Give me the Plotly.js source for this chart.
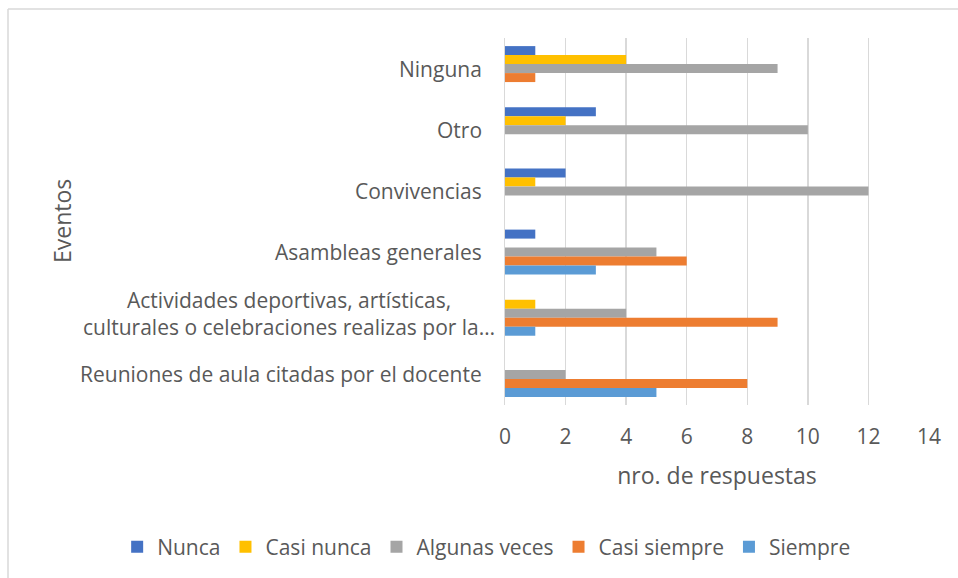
<!DOCTYPE html>
<html>
<head>
<meta charset="utf-8">
<script src="https://cdn.plot.ly/plotly-3.0.1.min.js"></script>
<style>
html,body{margin:0;padding:0;background:#fff;overflow:hidden;}
#chart{width:958px;height:578px;}
</style>
</head>
<body>
<div id="chart"></div>
<script>
// Categories, top to bottom as in the chart
const categories = [
  "Ninguna",
  "Otro",
  "Convivencias",
  "Asambleas generales",
  "Actividades deportivas, artísticas,<br>culturales o celebraciones realizas por la…",
  "Reuniones de aula citadas por el docente"
];
const seriesNames = ["Nunca", "Casi nunca", "Algunas veces", "Casi siempre", "Siempre"];
const nunca        = [1, 3, 2, 1, 0, 0];
const casiNunca    = [4, 2, 1, 0, 1, 0];
const algunasVeces = [9, 10, 12, 5, 4, 2];
const casiSiempre  = [1, 0, 0, 6, 9, 8];
const siempre      = [0, 0, 0, 3, 1, 5];
const xTicks = [0, 2, 4, 6, 8, 10, 12, 14];

const seriesValues = [nunca, casiNunca, algunasVeces, casiSiempre, siempre];
const colors = ["#4472C4", "#FFC000", "#A5A5A5", "#ED7D31", "#5B9BD5"];

const FONT = "'Open Sans', 'Noto Sans', sans-serif";
const TXT = "#595959";

const traces = seriesNames.map((name, i) => ({
  type: "bar",
  orientation: "h",
  name: name,
  y: categories,
  x: seriesValues[i],
  marker: {color: colors[i], line: {width: 0}},
  hoverinfo: "x+name"
}));

// page geometry in pixels
const W = 958, H = 578;
const ML = 8, MR = 8, T = 38, B = 173;
const AX0 = 505, AX1 = 929;          // x-axis pixel extent
const pw = W - ML - MR, ph = H - T - B;
const px = v => (v - ML) / pw;
const py = v => (H - B - v) / ph;

const annotations = categories.map(c => ({
  xref: "paper", yref: "y", x: px(484), y: c,
  xshift: c.indexOf("<br>") >= 0 ? 13 : 0,
  text: c, showarrow: false, xanchor: "right", align: "center",
  font: {family: FONT, size: 21, color: TXT}
}));
annotations.push({
  xref: "paper", yref: "paper", x: px(62), y: py(221),
  text: "Eventos", textangle: -90, showarrow: false,
  xanchor: "center", yanchor: "middle",
  font: {family: FONT, size: 23, color: TXT}
});

const layout = {
  width: W, height: H,
  margin: {l: ML, r: MR, t: T, b: B},
  paper_bgcolor: "#ffffff",
  plot_bgcolor: "#ffffff",
  barmode: "group",
  bargap: 0.265,
  bargroupgap: 0,
  font: {family: FONT, color: TXT},
  xaxis: {
    domain: [px(AX0), px(AX1)],
    range: [0, 14],
    tickvals: xTicks,
    ticktext: xTicks.map(String),
    showgrid: true, gridcolor: "#d9d9d9", gridwidth: 1.5,
    zeroline: false, showline: false, ticks: "",
    ticklabelstandoff: 17,
    tickfont: {family: FONT, size: 21, color: TXT},
    title: {text: "nro. de respuestas", standoff: 18, font: {family: FONT, size: 23, color: TXT}},
    fixedrange: true
  },
  yaxis: {
    autorange: "reversed",
    showticklabels: false,
    showgrid: false, zeroline: false,
    showline: true, linecolor: "#d9d9d9", linewidth: 1.5,
    ticks: "",
    fixedrange: true
  },
  legend: {
    orientation: "h",
    xref: "container", yref: "container",
    x: 0.508, xanchor: "center",
    y: 1 - 547 / H, yanchor: "middle",
    font: {family: FONT, size: 21, color: TXT},
    itemwidth: 30,
    traceorder: "normal"
  },
  annotations: annotations,
  shapes: [
    {type: "line", xref: "paper", yref: "paper", x0: px(8), x1: px(980), y0: py(9), y1: py(9),
     line: {color: "#d9d9d9", width: 1.5}},
    {type: "line", xref: "paper", yref: "paper", x0: px(8), x1: px(8), y0: py(9), y1: py(600),
     line: {color: "#d9d9d9", width: 1.5}}
  ],
  showlegend: true
};

Plotly.newPlot("chart", traces, layout, {displayModeBar: false, staticPlot: true});
</script>
</body>
</html>
